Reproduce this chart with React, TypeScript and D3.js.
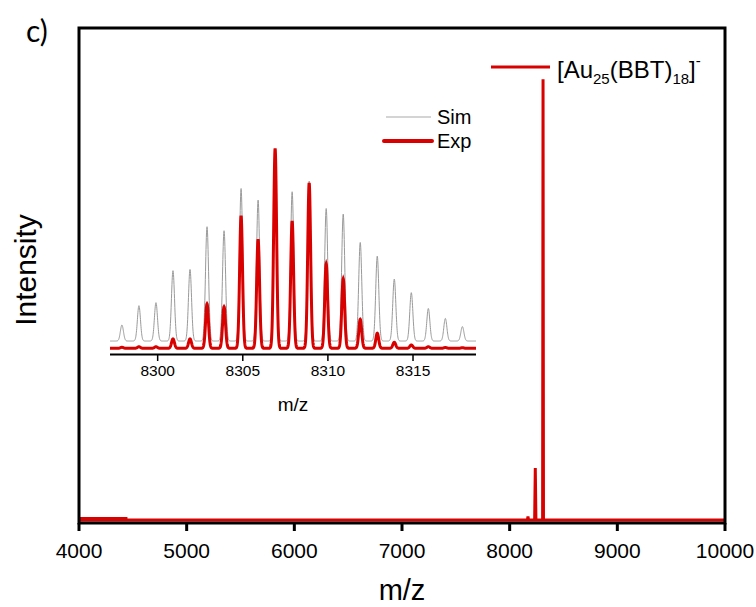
import React from "react";
import * as d3 from "d3";

// ---- Main spectrum data ----
const mainTicks = [4000, 5000, 6000, 7000, 8000, 9000, 10000];
const mainPeakMz = [8170, 8238, 8310];
const mainPeakInt = [0.8, 11.8, 100];
const mainPeakHalfWidth = [5, 6, 4];
const noiseRange = [4000, 4450];
const noiseLevel = 0.35;

// ---- Inset isotope pattern data ----
const isoMz = [8297.9, 8298.9, 8299.9, 8300.9, 8301.9, 8302.9, 8303.9, 8304.9, 8305.9, 8306.9, 8307.9,
  8308.9, 8309.9, 8310.9, 8311.9, 8312.9, 8313.9, 8314.9, 8315.9, 8316.9, 8317.9];
const simInt = [8.0, 17.7, 19.2, 35.2, 35.8, 57.2, 55.2, 76.3, 70.5, 78, 74.7,
  80.0, 66.3, 63.5, 49.3, 42.5, 31.0, 24.2, 16.3, 11.3, 7.2];
const expInt = [0.5, 0.8, 0.8, 4.7, 4.7, 22.2, 20.8, 66.3, 54.5, 100, 63.7,
  82.8, 42.2, 34.8, 14.5, 7.5, 3.0, 1.7, 0.8, 0.4, 0.3];
const simOffset = 3.65;
const insetTicks = [8300, 8305, 8310, 8315];

const RED = "#d90000";
const FONT = "'Liberation Sans', Arial, sans-serif";

function profile(mz: number[], ints: number[], sigma: number, offset: number, lo: number, hi: number) {
  const pts: [number, number][] = [];
  const step = 0.01;
  for (let x = lo; x <= hi + 1e-9; x += step) {
    let y = 0;
    for (let i = 0; i < mz.length; i++) {
      const d = (x - mz[i]) / sigma;
      if (Math.abs(d) < 6) y += ints[i] * Math.exp(-0.5 * d * d);
    }
    pts.push([x, y + offset]);
  }
  return pts;
}

export default function App() {
  const W = 756, H = 607;
  const x = d3.scaleLinear().domain([4000, 10000]).range([79, 725]);
  const y = d3.scaleLinear().domain([-0.68, 111.6]).range([523, 28]);

  const mainPts: [number, number][] = [[4000, 0]];
  mainPeakMz.forEach((m, i) => {
    const w = mainPeakHalfWidth[i];
    mainPts.push([m - w, 0], [m, mainPeakInt[i]], [m + w, 0]);
  });
  mainPts.push([10000, 0]);
  const mainLine = d3.line<[number, number]>().x(d => x(d[0])).y(d => y(d[1]));

  const ix = d3.scaleLinear().domain([8297.2, 8318.7]).range([110, 476]);
  const iy = d3.scaleLinear().domain([-3.1, 100]).range([354.5, 148.5]);
  const insetLine = d3.line<[number, number]>().x(d => ix(d[0])).y(d => iy(d[1]));
  const simPts = profile(isoMz, simInt, 0.09, simOffset, 8297.2, 8318.7);
  const expPts = profile(isoMz, expInt, 0.085, 0, 8297.2, 8318.7);

  return (
    <svg width={W} height={H} style={{ position: "absolute", left: 0, top: 0, background: "#fff" }}>
      <rect x={0} y={0} width={W} height={H} fill="#fff" />
      {/* panel label */}
      <text x={26} y={42} fontFamily="Lato, 'Open Sans', sans-serif" fontSize={30} fill="#000">c)</text>

      {/* main spectrum */}
      <path d={mainLine([[noiseRange[0], noiseLevel], [noiseRange[1], noiseLevel]])!} stroke={RED} strokeWidth={3} fill="none" />
      <path d={mainLine(mainPts)!} stroke={RED} strokeWidth={3} fill="none" strokeLinejoin="miter" strokeMiterlimit={2} />

      {/* frame */}
      <rect x={79} y={28} width={646} height={495} fill="none" stroke="#000" strokeWidth={3} />
      {mainTicks.map(t => (
        <g key={t}>
          <line x1={x(t)} x2={x(t)} y1={523} y2={531} stroke="#000" strokeWidth={3} />
          <text x={x(t)} y={558} textAnchor="middle" fontFamily={FONT} fontSize={21} fill="#000">{t}</text>
        </g>
      ))}
      <text x={402} y={600} textAnchor="middle" fontFamily={FONT} fontSize={29} fill="#000">m/z</text>
      <text transform="translate(36,270) rotate(-90)" textAnchor="middle" fontFamily={FONT} fontSize={30} fill="#000">Intensity</text>

      {/* main legend */}
      <line x1={491} x2={550} y1={67} y2={67} stroke={RED} strokeWidth={3} />
      <text x={557} y={78} fontFamily={FONT} fontSize={24} fill="#000">
        [Au<tspan fontSize={15} dy={6}>25</tspan><tspan dy={-6}>(BBT)</tspan><tspan fontSize={15} dy={6}>18</tspan><tspan dy={-6}>]</tspan><tspan fontSize={15} dy={-12}>-</tspan>
      </text>

      {/* inset */}
      <path d={insetLine(simPts)!} stroke="#9a9a9a" strokeWidth={1} fill="none" />
      <path d={insetLine(expPts)!} stroke={RED} strokeWidth={3} fill="none" />
      <line x1={110} x2={476} y1={354.5} y2={354.5} stroke="#000" strokeWidth={2} />
      {insetTicks.map(t => (
        <g key={t}>
          <line x1={ix(t)} x2={ix(t)} y1={354.5} y2={361} stroke="#000" strokeWidth={1.5} />
          <text x={ix(t)} y={376} textAnchor="middle" fontFamily={FONT} fontSize={15.5} fill="#000">{t}</text>
        </g>
      ))}
      <text x={293} y={411} textAnchor="middle" fontFamily={FONT} fontSize={19} fill="#000">m/z</text>

      {/* inset legend */}
      <line x1={386} x2={431} y1={117} y2={117} stroke="#aaa" strokeWidth={1.2} />
      <text x={437} y={124} fontFamily={FONT} fontSize={20} fill="#000">Sim</text>
      <line x1={384} x2={432} y1={141} y2={141} stroke={RED} strokeWidth={4} strokeLinecap="round" />
      <text x={437} y={148} fontFamily={FONT} fontSize={20} fill="#000">Exp</text>
    </svg>
  );
}
